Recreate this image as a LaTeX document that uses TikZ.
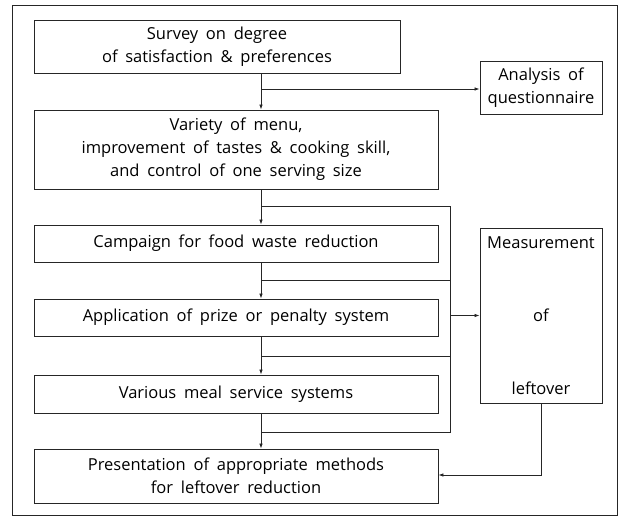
\documentclass[tikz,border=0pt]{standalone}
\usepackage{fontspec}
\setmainfont[WordSpace=1.8]{Open Sans}
\usetikzlibrary{arrows.meta}
\tikzset{
  box/.style={draw=black!85, line width=0.9pt, rectangle, align=center, inner sep=0pt,
    font=\fontsize{16.5}{23}\selectfont},
  conn/.style={draw=black!85, line width=0.8pt},
  arr/.style={conn, -{Latex[length=5pt,width=3.6pt]}},
}
\begin{document}
\begin{tikzpicture}[x=1pt,y=-1pt]
\useasboundingbox (0,0) rectangle (619,516);
\draw[line width=0.9pt, draw=black!85] (12,5) rectangle (617,515);
% boxes
\node[box, minimum width=366pt, minimum height=53pt] (s1) at (217,46.5)
  {Survey on degree\\of satisfaction \& preferences};
\node[box, minimum width=122pt, minimum height=53pt] (an) at (541,87.5)
  {Analysis of\\questionnaire};
\node[box, minimum width=404pt, minimum height=79pt] (s2) at (236,149.5)
  {Variety of menu,\\improvement of tastes \& cooking skill,\\and control of one serving size};
\node[box, minimum width=404pt, minimum height=37pt] (s3) at (236,243.5)
  {Campaign for food waste reduction};
\node[box, minimum width=404pt, minimum height=37pt] (s4) at (236,317.5)
  {Application of prize or penalty system};
\node[box, minimum width=404pt, minimum height=38pt] (s5) at (236,394)
  {Various meal service systems};
\node[box, minimum width=404pt, minimum height=54pt] (s6) at (236,476)
  {Presentation of appropriate methods\\for leftover reduction};
\node[box, minimum width=122pt, minimum height=175pt] (ms) at (541,315.5)
  {Measurement\\[50pt]of\\[50pt]leftover};
% junction coordinates
\coordinate (tx) at (261,0);
\coordinate (fx) at (450,0);
\coordinate (j1) at (261,89);
\coordinate (j2) at (261,206);
\coordinate (j3) at (261,280);
\coordinate (j4) at (261,356);
\coordinate (j5) at (261,432);
\coordinate (j6) at (541,475);
% main trunk
\draw[arr] (s1.south -| tx) -- (s2.north -| tx);
\draw[arr] (j1) -- (j1 -| an.west);
\draw[arr] (s2.south -| tx) -- (s3.north -| tx);
\draw[arr] (s3.south -| tx) -- (s4.north -| tx);
\draw[arr] (s4.south -| tx) -- (s5.north -| tx);
\draw[arr] (s5.south -| tx) -- (s6.north -| tx);
% feedback collector
\draw[conn] (j2) -- (j2 -| fx) -- (j5 -| fx) -- (j5);
\draw[conn] (j3) -- (j3 -| fx);
\draw[conn] (j4) -- (j4 -| fx);
\draw[arr] (fx |- ms.west) -- (ms.west);
% measurement to presentation
\draw[arr] (ms.south) -- (j6) -- (j6 -| s6.east);
\end{tikzpicture}
\end{document}
